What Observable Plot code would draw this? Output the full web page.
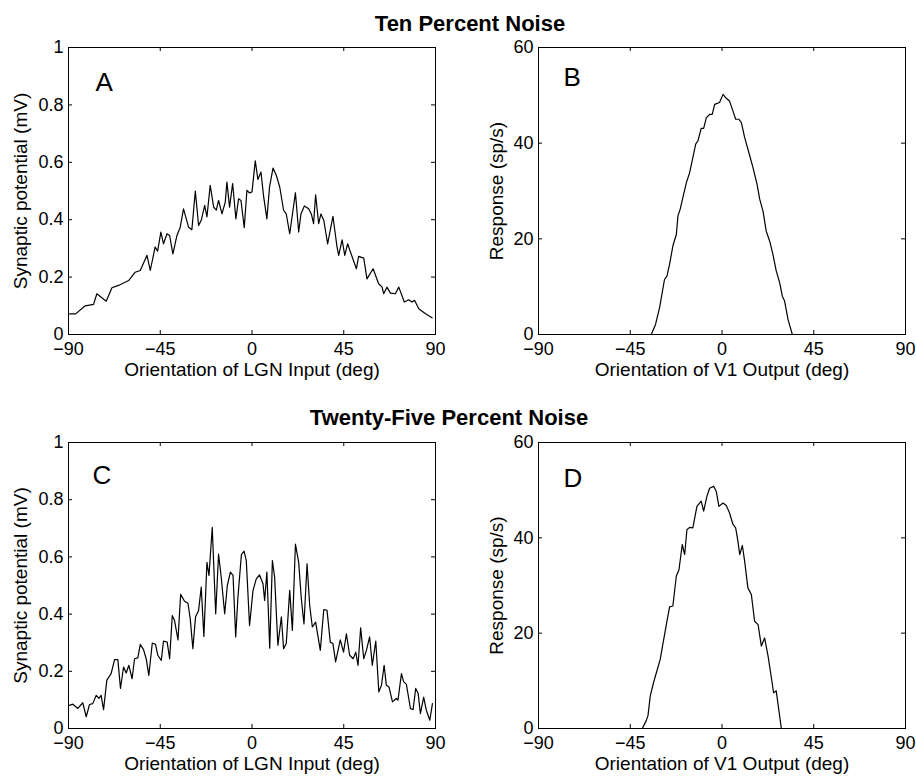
<!DOCTYPE html>
<html>
<head>
<meta charset="utf-8">
<script src="https://cdn.jsdelivr.net/npm/d3@7"></script>
<script src="https://cdn.jsdelivr.net/npm/@observablehq/plot@0.6"></script>
<style>
  body { margin: 0; background: #fff; }
  #fig { position: relative; width: 916px; height: 777px; overflow: hidden; font-family: "Liberation Sans", Arial, Helvetica, sans-serif; color: #000; }
  .title { position: absolute; font-weight: bold; font-size: 22px; line-height: 22px; white-space: nowrap; text-align: center; }
  .panel { position: absolute; }
</style>
</head>
<body>
<div id="fig"></div>
<script>
// Orientation ticks shared by every panel (deg)
const orientationTicks = [-90, -45, 0, 45, 90];
const potentialTicks = [0, 0.2, 0.4, 0.6, 0.8, 1];
const responseTicks = [0, 20, 40, 60];

const rowTitles = ["Ten Percent Noise", "Twenty-Five Percent Noise"];
const panelLetters = ["A", "B", "C", "D"];
const lgnLabel = "Orientation of LGN Input (deg)";
const v1Label = "Orientation of V1 Output (deg)";
const potentialLabel = "Synaptic potential (mV)";
const responseLabel = "Response (sp/s)";

// A: LGN input, 10% noise
const lgnTenDeg = [-89.5,-86.5,-81.8,-77.7,-76.1,-71.5,-68.7,-65.5,-60.5,-57.3,-54.8,-51.5,-49.9,-47.5,-46.3,-44.7,-43.4,-41.7,-40.4,-38.8,-36.8,-35.2,-33.6,-31.1,-29.5,-27.8,-26.2,-24.9,-23.2,-22.1,-20.5,-18.8,-17.5,-16.4,-14.7,-13.1,-12.3,-11.0,-9.5,-7.9,-6.6,-5.4,-3.8,-2.5,-1.2,0,1.6,2.9,4.4,5.7,7.3,8.6,10.3,11.9,13.6,15.5,16.8,18.5,21.3,22.9,24.0,25.7,27.8,29.1,30.2,31.2,32.7,33.8,35.2,37.1,39.7,41.7,42.5,44.2,45.5,46.9,48.6,51.2,52.3,54.8,56.4,59.4,62.1,63.8,64.6,66.2,67.9,70.3,72.0,74.7,76.9,78.5,79.7,81.8,85.1,88.3];
const lgnTenMv = [0.072,0.072,0.10,0.105,0.142,0.116,0.163,0.171,0.188,0.217,0.223,0.276,0.223,0.305,0.29,0.357,0.316,0.351,0.345,0.281,0.345,0.374,0.438,0.374,0.365,0.5,0.38,0.398,0.45,0.41,0.52,0.444,0.433,0.467,0.42,0.462,0.531,0.444,0.526,0.403,0.473,0.467,0.372,0.502,0.493,0.497,0.605,0.54,0.566,0.481,0.403,0.514,0.58,0.555,0.514,0.433,0.42,0.351,0.494,0.357,0.42,0.448,0.438,0.42,0.386,0.487,0.386,0.42,0.398,0.316,0.412,0.305,0.276,0.33,0.276,0.316,0.281,0.229,0.272,0.266,0.194,0.229,0.177,0.165,0.142,0.165,0.144,0.142,0.165,0.113,0.121,0.113,0.119,0.09,0.072,0.058];

// B: V1 output, 10% noise
const v1TenDeg = [-90,-34.7,-32.6,-30.6,-28.2,-27,-25.7,-24.1,-22.4,-21.6,-20.5,-19.2,-17.5,-15.9,-14.3,-12.9,-11.8,-10.2,-9,-7.7,-6.1,-4.8,-3.6,-1.2,0.5,1.8,3.7,5.4,6.7,8.3,9.5,11.1,13.2,15.2,17.2,18.5,20.1,21.7,23.4,25,26.6,28.3,29.6,30.7,32.4,34.5,90];
const v1TenSps = [0,0,2.1,5.6,11.5,12.2,14.7,18.5,20.9,24.8,26.2,28.6,31.7,33.8,37,39.8,40.5,43.1,43.1,45.3,46,46,48.1,48.5,50.2,49.5,48.8,46.7,45,45,44.3,41.2,38,34.9,31.4,28.3,25.8,21.6,19.5,16.7,13.3,10.8,8,7,3.1,0,0];

// C: LGN input, 25% noise
const lgnQuarterDeg = [-89.5,-87.9,-85.4,-83,-81.3,-79.7,-78.1,-76.4,-75.1,-74,-72.8,-71.2,-69.1,-67.4,-65.8,-64.5,-63,-61.7,-60.4,-58.8,-57.6,-56,-54.8,-53.2,-51.9,-50.6,-48.9,-47.3,-46.2,-44.5,-43.4,-41.6,-40.4,-39.1,-38,-36.3,-35,-33.1,-31.4,-30.3,-29,-27.7,-26.2,-24.9,-23.6,-22.1,-21.1,-19.5,-17.8,-16.4,-15.1,-13.4,-12.1,-10.6,-9.3,-8,-6.9,-5.2,-3.9,-2.8,-1.2,0.5,2.1,3.7,5.4,6.2,7.3,8.7,10,11.1,12.7,14.4,15.5,16.8,18.5,19.8,21.3,22.9,24.2,25.5,27,28.3,29.6,31.2,33.5,35.2,36.8,38.4,39.7,41,43.3,44.9,46.3,47.9,49.6,50.9,52,53.3,54.8,56.1,57.7,59,60.7,62.2,63.5,64.8,65.9,67.2,68.9,70.8,71.6,73.3,74.4,75.7,77.7,79,80.3,81.5,82.6,84.2,85.5,87.2,88.5];
const lgnQuarterMv = [0.081,0.085,0.07,0.09,0.041,0.084,0.087,0.116,0.105,0.116,0.066,0.169,0.192,0.241,0.241,0.14,0.215,0.194,0.221,0.174,0.244,0.247,0.294,0.276,0.244,0.186,0.299,0.294,0.256,0.238,0.306,0.302,0.244,0.395,0.378,0.31,0.469,0.445,0.438,0.384,0.279,0.39,0.413,0.494,0.322,0.581,0.535,0.703,0.401,0.61,0.529,0.401,0.5,0.547,0.535,0.32,0.459,0.608,0.62,0.587,0.36,0.483,0.523,0.537,0.506,0.448,0.547,0.281,0.587,0.529,0.291,0.39,0.279,0.297,0.483,0.343,0.645,0.581,0.453,0.366,0.576,0.43,0.355,0.372,0.273,0.416,0.413,0.302,0.297,0.233,0.31,0.267,0.331,0.256,0.244,0.267,0.221,0.352,0.244,0.273,0.32,0.221,0.306,0.128,0.151,0.221,0.151,0.145,0.093,0.105,0.099,0.192,0.163,0.155,0.07,0.066,0.14,0.122,0.052,0.11,0.064,0.029,0.087];

// D: V1 output, 25% noise
const v1QuarterDeg = [-90,-39.1,-37.2,-36.3,-35.2,-33.6,-32.2,-30.3,-29,-27.3,-25.7,-24.1,-22.4,-21.1,-19.5,-18.3,-17.2,-15.9,-14.3,-12.3,-10.2,-9,-7.4,-6.1,-4.1,-2.8,-1.5,0.5,2.1,3.7,5.4,6.7,7.8,8.7,10,11.1,12.7,14.4,16,17.7,19.3,20.9,22.6,24.2,25.3,26.6,29.1,90];
const v1QuarterSps = [0,0,1.6,2.7,6.8,9.6,11.7,14.5,17.7,21.8,25.5,25.7,32,33.3,38.6,36.5,41.7,42.2,42.1,46.6,47.7,45.6,48.7,50.4,50.8,49.7,46.6,47.3,46.8,45.2,42.8,42.1,39.3,36.5,38.4,35.1,29.5,28.1,22.5,21.8,17.3,19,15.2,10.7,7.5,7.9,0,0];

const FONT = '"Liberation Sans", Arial, Helvetica, sans-serif';
const TICK = 4;
const fmt = d3.format("~g");

function panel(cfg) {
  const {xs, ys, yDomain, yTicks, xLabel, yLabel, letter, left, top, width, height,
         mt, mr, mb, ml, letterDx, letterDy, yLabelDx} = cfg;
  const data = xs.map((x, i) => ({x, y: ys[i]}));
  const innerW = width - ml - mr;
  const innerH = height - mt - mb;
  const chart = Plot.plot({
    width, height,
    marginTop: mt, marginRight: mr, marginBottom: mb, marginLeft: ml,
    style: {fontFamily: FONT, color: "#000"},
    x: {domain: [-90, 90]},
    y: {domain: yDomain},
    marks: [
      Plot.frame({stroke: "#000"}),
      // inward ticks on all four sides
      Plot.ruleX(orientationTicks, {insetTop: innerH - TICK, stroke: "#000"}),
      Plot.ruleX(orientationTicks, {insetBottom: innerH - TICK, stroke: "#000"}),
      Plot.ruleY(yTicks, {insetRight: innerW - TICK, stroke: "#000"}),
      Plot.ruleY(yTicks, {insetLeft: innerW - TICK, stroke: "#000"}),
      Plot.axisX(orientationTicks, {tickSize: 0, tickPadding: 8, tickFormat: fmt, label: null, fontSize: 18}),
      Plot.axisY(yTicks, {tickSize: 0, tickPadding: 5, tickFormat: fmt, label: null, fontSize: 18}),
      Plot.line(data, {x: "x", y: "y", stroke: "#000", strokeWidth: 1.2}),
      Plot.text([xLabel], {text: d => d, frameAnchor: "bottom", dy: 28, textAnchor: "middle", lineAnchor: "top", fontSize: 19}),
      Plot.text([yLabel], {text: d => d, frameAnchor: "left", dx: yLabelDx, rotate: -90, textAnchor: "middle", lineAnchor: "top", fontSize: 19}),
      Plot.text([letter], {text: d => d, frameAnchor: "top-left", dx: letterDx, dy: letterDy, textAnchor: "start", lineAnchor: "top", fontSize: 26})
    ]
  });
  chart.classList.add("panel");
  chart.style.left = left + "px";
  chart.style.top = top + "px";
  return chart;
}

const fig = document.getElementById("fig");

const leftCol = {left: 0, width: 456, ml: 68, mr: 21, yLabelDx: -55};
const rightCol = {left: 456, width: 460, ml: 82, mr: 11, yLabelDx: -49};
const topRow = {top: 28, height: 362, mt: 19, mb: 56};
const botRow = {top: 420, height: 357, mt: 22, mb: 49};

fig.appendChild(panel({...leftCol, ...topRow, xs: lgnTenDeg, ys: lgnTenMv, yDomain: [0, 1], yTicks: potentialTicks,
  xLabel: lgnLabel, yLabel: potentialLabel, letter: panelLetters[0], letterDx: 27, letterDy: 25}));
fig.appendChild(panel({...rightCol, ...topRow, xs: v1TenDeg, ys: v1TenSps, yDomain: [0, 60], yTicks: responseTicks,
  xLabel: v1Label, yLabel: responseLabel, letter: panelLetters[1], letterDx: 25, letterDy: 20}));
fig.appendChild(panel({...leftCol, ...botRow, xs: lgnQuarterDeg, ys: lgnQuarterMv, yDomain: [0, 1], yTicks: potentialTicks,
  xLabel: lgnLabel, yLabel: potentialLabel, letter: panelLetters[2], letterDx: 24, letterDy: 23}));
fig.appendChild(panel({...rightCol, ...botRow, xs: v1QuarterDeg, ys: v1QuarterSps, yDomain: [0, 60], yTicks: responseTicks,
  xLabel: v1Label, yLabel: responseLabel, letter: panelLetters[3], letterDx: 25, letterDy: 26}));

// Row titles, centred by a fixed-width box (no CSS transform)
const t1 = document.createElement("div");
t1.className = "title"; t1.textContent = rowTitles[0];
t1.style.left = "24px"; t1.style.width = "892px"; t1.style.top = "13px";
fig.appendChild(t1);

const t2 = document.createElement("div");
t2.className = "title"; t2.textContent = rowTitles[1];
t2.style.left = "0px"; t2.style.width = "898px"; t2.style.top = "407px";
fig.appendChild(t2);
</script>
</body>
</html>
